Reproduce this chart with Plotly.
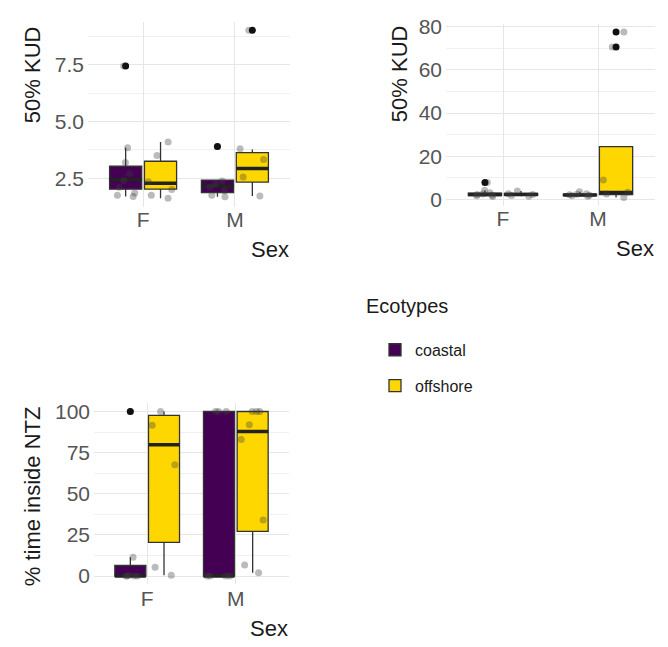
import plotly.graph_objects as go

# ---------------- data ----------------
sex = ["F", "M"]
ecotypes = ["coastal", "offshore"]
colors = {"coastal": "#440154", "offshore": "#FFD700"}

# Panel A : 50% KUD (small range)
kudA_points = {
    ("coastal", "F"): [1.7, 1.75, 1.85, 2.1, 2.4, 2.7, 3.2, 3.85, 7.45],
    ("offshore", "F"): [1.62, 1.75, 2.0, 2.35, 3.5, 4.1],
    ("coastal", "M"): [1.68, 1.75, 1.95, 2.1, 2.25, 2.38, 3.9],
    ("offshore", "M"): [1.72, 2.56, 3.33, 3.8, 9.03],
}
kudA_stats = {  # q1, median, q3, lower whisker, upper whisker
    ("coastal", "F"): [2.02, 2.45, 3.03, 1.7, 3.85],
    ("offshore", "F"): [2.02, 2.28, 3.25, 1.62, 4.1],
    ("coastal", "M"): [1.87, 2.15, 2.42, 1.68, 2.45],
    ("offshore", "M"): [2.33, 2.93, 3.63, 1.72, 3.77],
}
kudA_outliers = {
    ("coastal", "F"): [7.45],
    ("offshore", "F"): [],
    ("coastal", "M"): [3.9],
    ("offshore", "M"): [9.03],
}

# Panel B : 50% KUD (large range)
kudB_points = {
    ("coastal", "F"): [1.4, 1.8, 2.0, 2.3, 2.6, 3.2, 4.3, 7.9],
    ("offshore", "F"): [1.5, 1.9, 2.3, 2.7, 3.9],
    ("coastal", "M"): [1.5, 1.8, 2.0, 2.2, 2.4, 2.7, 3.6],
    ("offshore", "M"): [1.0, 2.6, 3.4, 9.0, 70.5, 77.5],
}
kudB_stats = {
    ("coastal", "F"): [1.8, 2.3, 2.9, 1.4, 4.3],
    ("offshore", "F"): [1.9, 2.3, 2.8, 1.5, 3.9],
    ("coastal", "M"): [1.8, 2.1, 2.5, 1.5, 3.6],
    ("offshore", "M"): [2.3, 3.3, 24.5, 1.0, 24.5],
}
kudB_outliers = {
    ("coastal", "F"): [7.9],
    ("offshore", "F"): [],
    ("coastal", "M"): [],
    ("offshore", "M"): [70.5, 77.5],
}

# Panel C : % time inside NTZ
ntz_points = {
    ("coastal", "F"): [0, 0, 0, 0, 0.5, 11.5, 100],
    ("offshore", "F"): [0.5, 5.4, 67.7, 91.7, 100],
    ("coastal", "M"): [0, 0, 0, 0, 100, 100, 100],
    ("offshore", "M"): [2, 6.7, 34, 83, 92, 100, 100, 100],
}
ntz_stats = {
    ("coastal", "F"): [0, 0, 6.4, 0, 11.5],
    ("offshore", "F"): [20.5, 79.8, 97.6, 0.5, 100],
    ("coastal", "M"): [0, 0, 100, 0, 100],
    ("offshore", "M"): [27.2, 87.9, 100, 2, 100],
}
ntz_outliers = {
    ("coastal", "F"): [100],
    ("offshore", "F"): [],
    ("coastal", "M"): [],
    ("offshore", "M"): [],
}

y_titles = ["50% KUD", "50% KUD", "% time inside NTZ"]
x_title = "Sex"
legend_title = "Ecotypes"

# ---------------- style ----------------
FONT = "Liberation Sans, Arial, Helvetica, sans-serif"
W, H = 668, 647
DODGE = 0.19
BOXW = 0.35
GRID = "#E6E6E6"
GRID_MINOR = "#F0F0F0"
TICKCOL = "#555555"
TITLECOL = "#1A1A1A"

fig = go.Figure()

panels = [
    (kudA_points, kudA_stats, kudA_outliers, "x", "y", True),
    (kudB_points, kudB_stats, kudB_outliers, "x2", "y2", False),
    (ntz_points, ntz_stats, ntz_outliers, "x3", "y3", False),
]


def pos_of(eco, s):
    return sex.index(s) + 1 + (-DODGE if eco == "coastal" else DODGE)


for pts, stats, outs, xa, ya, legend in panels:
    for eco in ecotypes:
        for s in sex:
            key = (eco, s)
            p = pos_of(eco, s)
            q1, med, q3, lo, hi = stats[key]
            fig.add_trace(go.Box(
                x=[p], q1=[q1], median=[med], q3=[q3], lowerfence=[lo], upperfence=[hi],
                width=BOXW, fillcolor=colors[eco], line=dict(color="#333333", width=1.3),
                whiskerwidth=0, boxpoints=False, name=eco, legendgroup=eco,
                showlegend=(legend and s == "F"), xaxis=xa, yaxis=ya, hoverinfo="skip"))
            # thick median line
            fig.add_trace(go.Box(
                x=[p], q1=[med], median=[med], q3=[med], lowerfence=[med], upperfence=[med],
                width=BOXW, fillcolor="rgba(0,0,0,0)", line=dict(color="#222222", width=3.5),
                whiskerwidth=0, boxpoints=False, showlegend=False, xaxis=xa, yaxis=ya,
                hoverinfo="skip"))
    for eco in ecotypes:
        for s in sex:
            key = (eco, s)
            p = pos_of(eco, s)
            if outs[key]:
                fig.add_trace(go.Scatter(
                    x=[p] * len(outs[key]), y=outs[key], mode="markers",
                    marker=dict(color="#111111", size=7), showlegend=False,
                    xaxis=xa, yaxis=ya, hoverinfo="skip"))
    for eco in ecotypes:
        for s in sex:
            key = (eco, s)
            p = pos_of(eco, s)
            vals = pts[key]
            fig.add_trace(go.Box(
                x=[p] * len(vals), y=vals, boxpoints="all", jitter=0.9, pointpos=0,
                width=BOXW, fillcolor="rgba(0,0,0,0)",
                line=dict(color="rgba(0,0,0,0)", width=0),
                marker=dict(color="rgba(60,60,60,0.35)", size=7),
                showlegend=False, xaxis=xa, yaxis=ya, hoverinfo="skip"))


def yrange(pts):
    allv = [v for vals in pts.values() for v in vals]
    lo, hi = min(allv), max(allv)
    e = 0.05 * (hi - lo)
    return [lo - e, hi + e]


def px_x(a, b):
    return [a / W, b / W]


def px_y(top, bottom):
    return [1 - bottom / H, 1 - top / H]


tickfont = dict(family=FONT, size=21, color=TICKCOL)
xcommon = dict(range=[0.4, 2.6], tickmode="array", tickvals=[1, 2], ticktext=sex,
               showgrid=True, gridcolor=GRID, gridwidth=1.2, zeroline=False,
               showline=False, ticks="", tickfont=tickfont, fixedrange=True)
ycommon = dict(showgrid=True, gridcolor=GRID, gridwidth=1.2, zeroline=False,
               showline=False, ticks="", tickfont=tickfont, fixedrange=True,
               tickmode="linear", tick0=0, ticklabelstandoff=3)

fig.update_layout(
    width=W, height=H, margin=dict(l=0, r=0, t=0, b=0),
    paper_bgcolor="white", plot_bgcolor="white", boxmode="overlay",
    font=dict(family=FONT, color=TITLECOL),
    xaxis=dict(domain=px_x(88, 290), anchor="y", ticklabelstandoff=-2, **xcommon),
    yaxis=dict(domain=px_y(13, 202), anchor="x", range=yrange(kudA_points),
               dtick=2.5, tickformat=".1f",
               minor=dict(dtick=1.25, showgrid=True, gridcolor=GRID_MINOR, gridwidth=1),
               **ycommon),
    xaxis2=dict(domain=px_x(446, 655), anchor="y2", ticklabelstandoff=-2, **xcommon),
    yaxis2=dict(domain=px_y(15, 201), anchor="x2", range=yrange(kudB_points),
                dtick=20,
                minor=dict(dtick=10, showgrid=True, gridcolor=GRID_MINOR, gridwidth=1),
                **ycommon),
    xaxis3=dict(domain=px_x(94, 289), anchor="y3", **xcommon),
    yaxis3=dict(domain=px_y(403, 588), anchor="x3", range=yrange(ntz_points),
                dtick=25,
                minor=dict(dtick=12.5, showgrid=True, gridcolor=GRID_MINOR, gridwidth=1),
                **ycommon),
    legend=dict(font=dict(family=FONT, size=16, color=TITLECOL),
                x=375 / W, y=1 - 331 / H, xanchor="left", yanchor="top",
                traceorder="grouped", tracegroupgap=12, bgcolor="rgba(0,0,0,0)"),
    hovermode=False,
)

ann_font = dict(family=FONT, size=22, color=TITLECOL)
annotations = [
    dict(text=y_titles[0], x=32 / W, y=1 - 16 / H, textangle=-90, xanchor="center", yanchor="top"),
    dict(text=y_titles[1], x=399 / W, y=1 - 15 / H, textangle=-90, xanchor="center", yanchor="top"),
    dict(text=y_titles[2], x=32 / W, y=1 - 404 / H, textangle=-90, xanchor="center", yanchor="top"),
    dict(text=x_title, x=291 / W, y=1 - 246 / H, xanchor="right", yanchor="middle"),
    dict(text=x_title, x=656 / W, y=1 - 245 / H, xanchor="right", yanchor="middle"),
    dict(text=x_title, x=290 / W, y=1 - 633 / H, xanchor="right", yanchor="middle"),
]
for a in annotations:
    a.update(xref="paper", yref="paper", showarrow=False, font=ann_font)
annotations.append(dict(text=legend_title, x=364 / W, y=1 - 304 / H, xref="paper", yref="paper",
                        xanchor="left", yanchor="middle", showarrow=False,
                        font=dict(family=FONT, size=20, color=TITLECOL)))
fig.update_layout(annotations=annotations)

fig.write_html("out.html", config={"displayModeBar": False},
               post_script="document.body.style.margin='0px';document.body.style.overflow='hidden';")
